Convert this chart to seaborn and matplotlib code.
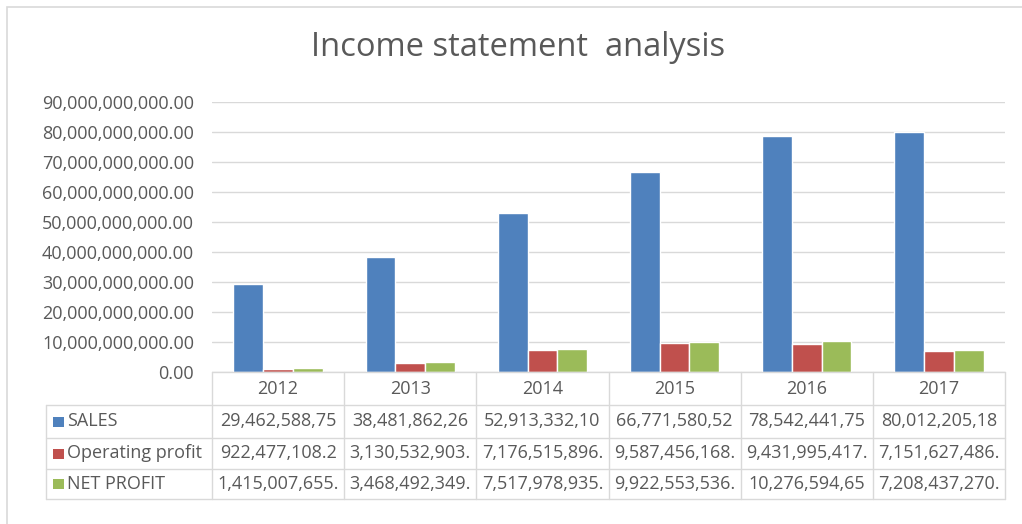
import matplotlib
matplotlib.use("Agg")
import matplotlib.pyplot as plt
import matplotlib.transforms as mtransforms
from matplotlib.patches import Rectangle
import seaborn as sns
import pandas as pd

years = ["2012", "2013", "2014", "2015", "2016", "2017"]
series = ["SALES", "Operating profit", "NET PROFIT"]
sales = [29462588750, 38481862260, 52913332100, 66771580520, 78542441750, 80012205180]
operating_profit = [922477108.2, 3130532903, 7176515896, 9587456168, 9431995417, 7151627486]
net_profit = [1415007655, 3468492349, 7517978935, 9922553536, 10276594650, 7208437270]

sales_text = ["29,462,588,75", "38,481,862,26", "52,913,332,10", "66,771,580,52", "78,542,441,75", "80,012,205,18"]
op_text = ["922,477,108.2", "3,130,532,903.", "7,176,515,896.", "9,587,456,168.", "9,431,995,417.", "7,151,627,486."]
net_text = ["1,415,007,655.", "3,468,492,349.", "7,517,978,935.", "9,922,553,536.", "10,276,594,65", "7,208,437,270."]

colors = ["#4F81BD", "#C0504D", "#9BBB59"]
text_color = "#595959"
grid_color = "#D9D9D9"

sns.set_style("white")
plt.rcParams["font.family"] = ["Open Sans", "DejaVu Sans"]

df = pd.DataFrame({
    "year": years * 3,
    "series": [series[0]] * 6 + [series[1]] * 6 + [series[2]] * 6,
    "value": sales + operating_profit + net_profit,
})

W, H = 1022, 524
fig = plt.figure(figsize=(W / 100, H / 100), dpi=100)
ax = fig.add_axes([212 / W, 1 - 372 / H, 793 / W, 270 / H])

sns.barplot(data=df, x="year", y="value", hue="series", order=years,
            hue_order=series, palette=colors, width=0.675, ax=ax,
            legend=False, saturation=1, errorbar=None)

fs = 13
ax.set_ylim(0, 90e9)
ax.set_xlim(-0.5, 5.5)
ax.set_yticks([i * 10e9 for i in range(10)])
ax.set_yticklabels(["{:,.2f}".format(v) for v in ax.get_yticks()])
ax.tick_params(axis="y", length=0, pad=13, labelsize=fs, labelcolor=text_color)
ax.set_xticks([])
ax.set_xlabel("")
ax.set_ylabel("")
for s in ax.spines.values():
    s.set_visible(False)
ax.yaxis.grid(True, color=grid_color, lw=1)
ax.set_axisbelow(True)

# Title
fig.text(518 / W, 1 - 47 / H, "Income statement  analysis", ha="center", va="center",
         fontsize=23.5, color=text_color)

# Outer chart border
fig.add_artist(Rectangle((7 / W, -0.05), 1.2, 1 - 7 / H + 0.05, transform=fig.transFigure,
                         fill=False, edgecolor=grid_color, lw=1.2))

# Data table below the axis
bt = mtransforms.blended_transform_factory(ax.transData, ax.transAxes)
ph = 270.0
row_y = [0, -33 / ph, -66 / ph, -97 / ph, -127 / ph]
xl = (46 - 212) / 793.0
lk = dict(color=grid_color, lw=1, clip_on=False)

ax.plot([-0.5, 5.5], [row_y[0]] * 2, transform=bt, **lk)
for yy in row_y[1:]:
    ax.plot([xl, 1], [yy, yy], transform=ax.transAxes, **lk)
for i in range(7):
    ax.plot([i - 0.5, i - 0.5], [row_y[0], row_y[-1]], transform=bt, **lk)
ax.plot([xl, xl], [row_y[1], row_y[-1]], transform=ax.transAxes, **lk)

for i, yr in enumerate(years):
    ax.text(i, (row_y[0] + row_y[1]) / 2, yr, transform=bt, ha="center", va="center",
            fontsize=fs, color=text_color)

rows = [sales_text, op_text, net_text]
for r, (lab, vals, col) in enumerate(zip(series, rows, colors)):
    yc = (row_y[r + 1] + row_y[r + 2]) / 2
    ax.add_patch(Rectangle((xl + 7 / 793, yc - 5 / ph), 11 / 793, 10 / ph,
                           transform=ax.transAxes, facecolor=col, edgecolor="none",
                           clip_on=False))
    ax.text(xl + 21 / 793, yc, lab, transform=ax.transAxes, ha="left", va="center",
            fontsize=fs, color=text_color)
    for i, t in enumerate(vals):
        ax.text(i, yc, t, transform=bt, ha="center", va="center",
                fontsize=fs, color=text_color)

fig.savefig("out.png", dpi=100, facecolor="white")
